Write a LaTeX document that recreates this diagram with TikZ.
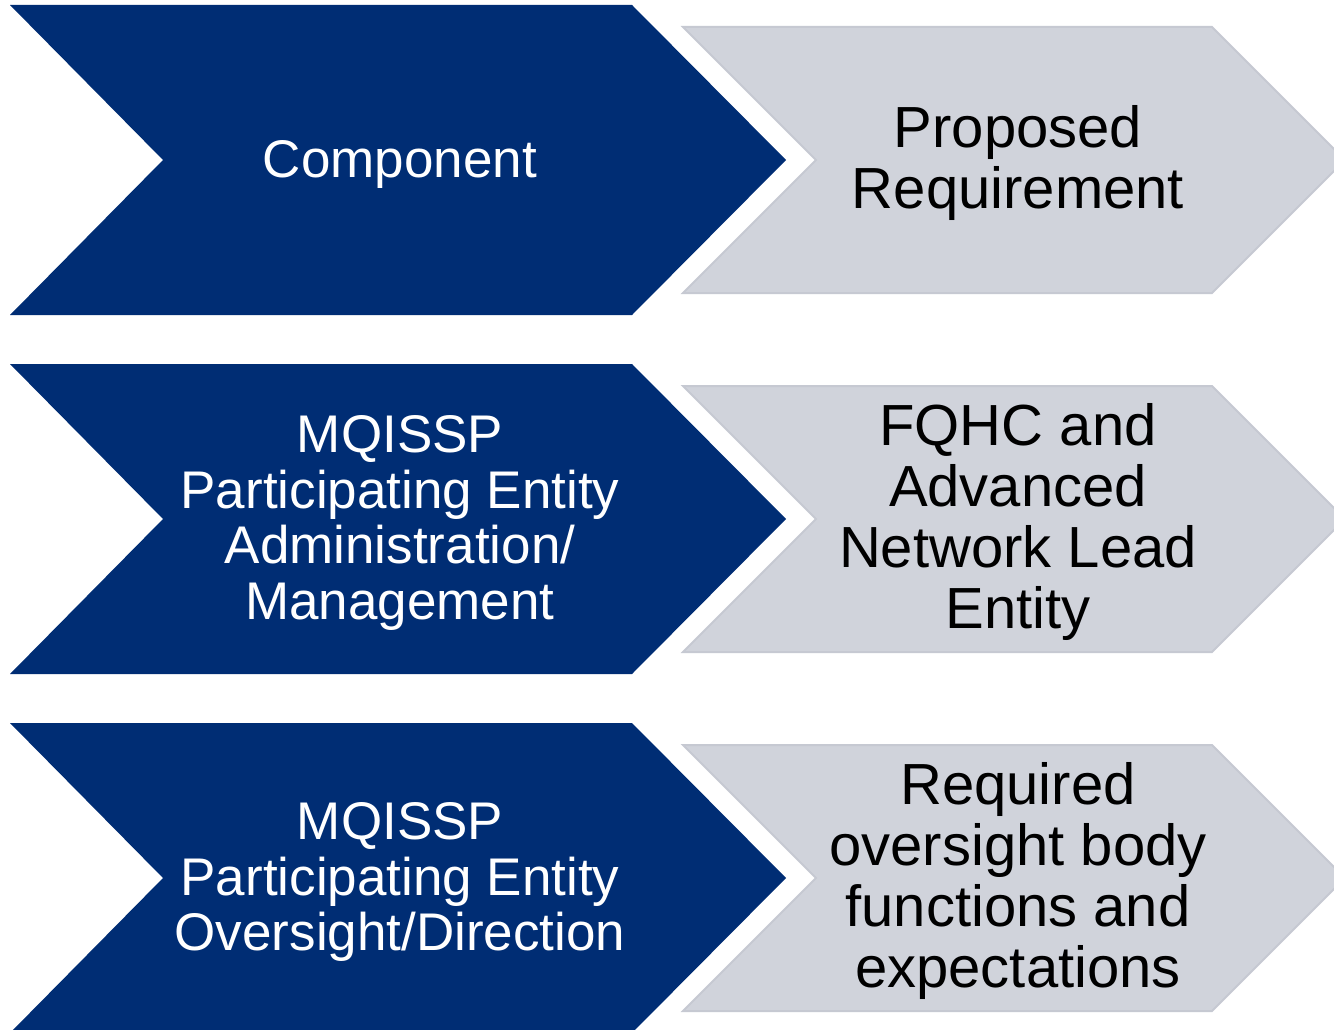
\documentclass[tikz,border=0pt]{standalone}
\usepackage{fontspec}
\setmainfont{Liberation Sans}
\definecolor{navy}{RGB}{0,45,116}
\definecolor{lgray}{RGB}{208,211,219}
\definecolor{lgrayline}{RGB}{198,201,210}
\tikzset{
  bluechev/.style={fill=navy},
  graychev/.style={fill=lgray, draw=lgrayline, line width=2pt, line join=miter},
  bluetext/.style={text=white, align=center, font=\fontsize{53}{55.5}\selectfont, inner sep=0pt},
  graytext/.style={text=black, align=center, font=\fontsize{58}{61}\selectfont, inner sep=0pt},
}
\begin{document}
\begin{tikzpicture}[x=1pt,y=-1pt]
\clip (0,0) rectangle (1334,1030);
\fill[white] (0,0) rectangle (1334,1030);
\foreach \cy in {160,519,878}{
  \path[bluechev] (10,\cy-155) -- (632,\cy-155) -- (786,\cy) -- (632,\cy+155) -- (10,\cy+155) -- (163,\cy) -- cycle;
  \path[graychev] (683,\cy-133) -- (1212,\cy-133) -- (1345,\cy) -- (1212,\cy+133) -- (683,\cy+133) -- (816,\cy) -- cycle;
}
\node[bluetext] (c1) at (400,164) {Component};
\node[graytext] (p1) at (1018,163) {Proposed\\Requirement};
\node[bluetext] (c2) at (400,523) {MQISSP\\Participating Entity\\Administration/\\Management};
\node[graytext] (p2) at (1018,522) {FQHC and\\Advanced\\Network Lead\\Entity};
\node[bluetext] (c3) at (400,882) {MQISSP\\Participating Entity\\Oversight/Direction};
\node[graytext] (p3) at (1018,881) {Required\\oversight body\\functions and\\expectations};
\end{tikzpicture}
\end{document}
